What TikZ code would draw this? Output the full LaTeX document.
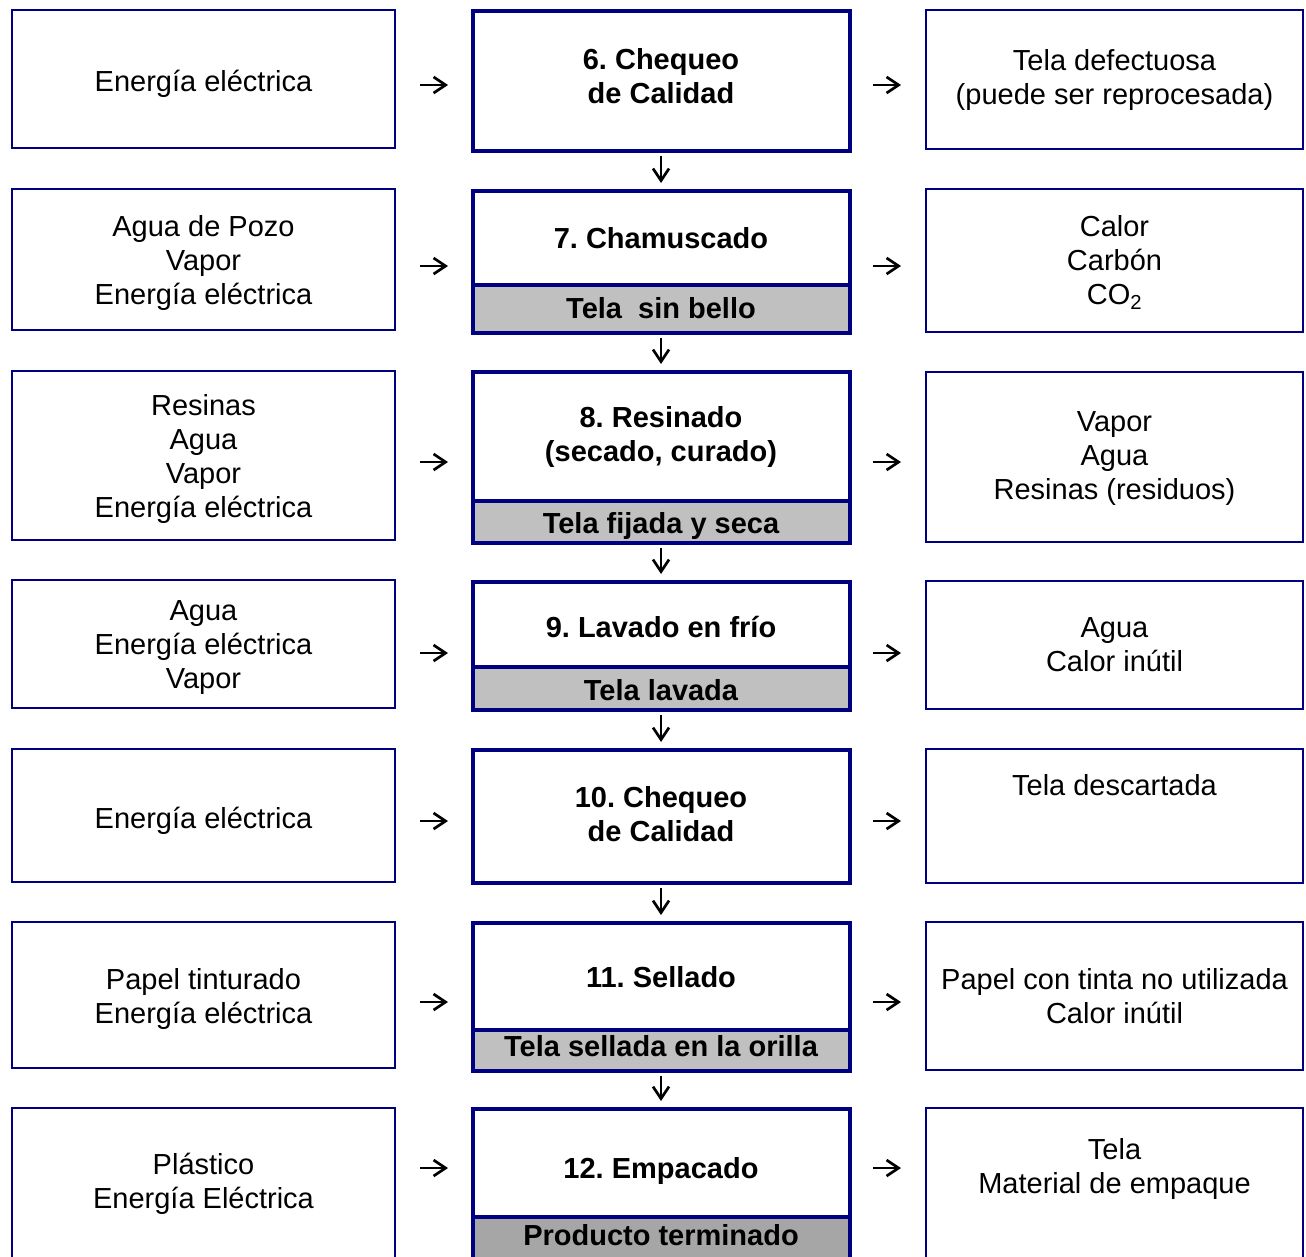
\documentclass[tikz,border=0pt]{standalone}
\usepackage{fontspec}
\setmainfont{Liberation Sans}
\usetikzlibrary{arrows.meta}
\definecolor{navy}{RGB}{0,0,128}
\definecolor{bandgrey}{RGB}{192,192,192}
\definecolor{banddark}{RGB}{166,166,166}
% strut that centres a line of text on its cap height
\newcommand\linestrut{\rule[-6.6pt]{0pt}{34pt}}

\begin{document}
\frenchspacing
\begin{tikzpicture}[x=1pt,y=-1pt,
  inbox/.style={draw=navy, line width=2.2pt, minimum width=383pt, inner sep=0pt, outer sep=0pt},
  stepbox/.style={draw=navy, line width=4pt, minimum width=377pt, inner sep=0pt, outer sep=0pt, fill=white},
  bandbox/.style={stepbox, fill=bandgrey},
  outbox/.style={draw=navy, line width=2.6pt, minimum width=377pt, inner sep=0pt, outer sep=0pt},
  txt/.style={font=\fontsize{29}{34}\selectfont, align=center, inner sep=0pt,
    execute at begin node=\linestrut, execute at end node=\linestrut},
  btxt/.style={txt, font=\fontsize{29}{34}\selectfont\bfseries},
  flow/.style={line width=2.3pt, -{Straight Barb[length=12pt,width=16pt,line width=2.7pt]}},
  inflow/.style={flow, shorten <=25pt, shorten >=24.5pt},
  outflow/.style={flow, shorten <=23.5pt, shorten >=25pt},
  downflow/.style={flow, shorten <=4.5pt, shorten >=8pt},
]
\useasboundingbox (0,0) rectangle (1306,1256);
\fill[white] (0,0) rectangle (1306,1256);
\clip (0,0) rectangle (1306,1256);

% ---------- boxes: inputs (left), steps (middle), outputs (right)
% row 1
\node[inbox, minimum height=138pt] (in1) at (203.5,79) {};
\node[stepbox, minimum height=140pt] (p1) at (661,81) {};
\node[outbox, minimum height=139pt] (out1) at (1114.5,79.5) {};
% row 2
\node[inbox, minimum height=141pt] (in2) at (203.5,259.5) {};
\node[stepbox, minimum height=94pt] (p2) at (661,238) {};
\node[bandbox, minimum height=48pt] (b2) at (661,309) {};
\node[outbox, minimum height=143pt] (out2) at (1114.5,260.5) {};
% row 3
\node[inbox, minimum height=169pt] (in3) at (203.5,455.5) {};
\node[stepbox, minimum height=129pt] (p3) at (661,436.5) {};
\node[bandbox, minimum height=42pt] (b3) at (661,522) {};
\node[outbox, minimum height=170pt] (out3) at (1114.5,457) {};
% row 4
\node[inbox, minimum height=128pt] (in4) at (203.5,644) {};
\node[stepbox, minimum height=85pt] (p4) at (661,624.5) {};
\node[bandbox, minimum height=43pt] (b4) at (661,688.5) {};
\node[outbox, minimum height=128pt] (out4) at (1114.5,645) {};
% row 5
\node[inbox, minimum height=133pt] (in5) at (203.5,815.5) {};
\node[stepbox, minimum height=133pt] (p5) at (661,816.5) {};
\node[outbox, minimum height=134pt] (out5) at (1114.5,816) {};
% row 6
\node[inbox, minimum height=146pt] (in6) at (203.5,995) {};
\node[stepbox, minimum height=107pt] (p6) at (661,976.5) {};
\node[bandbox, minimum height=41pt] (b6) at (661,1050.5) {};
\node[outbox, minimum height=148pt] (out6) at (1114.5,996) {};
% row 7 (runs past the lower edge)
\node[inbox, minimum height=172pt] (in7) at (203.5,1194) {};
\node[stepbox, minimum height=108pt] (p7) at (661,1163) {};
\node[bandbox, fill=banddark, minimum height=63pt] (b7) at (661,1248.5) {};
\node[outbox, minimum height=172pt] (out7) at (1114.5,1194) {};

% ---------- texts
\node[txt] (tin1) at (203.5,81.5) {Energía eléctrica};
\node[btxt] (tp1) at (661,79) {6. Chequeo\\de Calidad};
\node[txt] (tout1) at (1114.5,80.3) {Tela defectuosa\\(puede ser reprocesada)};

\node[txt] (tin2) at (203.5,263) {Agua de Pozo\\Vapor\\Energía eléctrica};
\node[btxt] (tp2) at (661,238) {7. Chamuscado};
\node[btxt] (tb2) at (661,308) {Tela\ \ sin bello};
\node[txt] (tout2) at (1114.5,263) {Calor\\Carbón\\CO\textsubscript{2}};

\node[txt] (tin3) at (203.5,459) {Resinas\\Agua\\Vapor\\Energía eléctrica};
\node[btxt] (tp3) at (661,437.5) {8. Resinado\\(secado, curado)};
\node[btxt] (tb3) at (661,523) {Tela fijada y seca};
\node[txt] (tout3) at (1114.5,459) {Vapor\\Agua\\Resinas (residuos)};

\node[txt] (tin4) at (203.5,648) {Agua\\Energía eléctrica\\Vapor};
\node[btxt] (tp4) at (661,627.5) {9. Lavado en frío};
\node[btxt] (tb4) at (661,690) {Tela lavada};
\node[txt] (tout4) at (1114.5,648) {Agua\\Calor inútil};

\node[txt] (tin5) at (203.5,818) {Energía eléctrica};
\node[btxt] (tp5) at (661,817.5) {10. Chequeo\\de Calidad};
\node[txt] (tout5) at (1114.5,785.5) {Tela descartada};

\node[txt] (tin6) at (203.5,999) {Papel tinturado\\Energía eléctrica};
\node[btxt] (tp6) at (661,977.5) {11. Sellado};
\node[btxt] (tb6) at (661,1046.5) {Tela sellada en la orilla};
\node[txt] (tout6) at (1114.5,999) {Papel con tinta no utilizada\\Calor inútil};

\node[txt] (tin7) at (203.5,1184.5) {Plástico\\Energía Eléctrica};
\node[btxt] (tp7) at (661,1168) {12. Empacado};
\node[btxt] (tb7) at (661,1235) {Producto terminado};
\node[txt] (tout7) at (1114.5,1169.5) {Tela\\Material de empaque};

% ---------- arrow levels of each row
\coordinate (lv1) at (0,85);
\coordinate (lv2) at (0,266);
\coordinate (lv3) at (0,462);
\coordinate (lv4) at (0,653);
\coordinate (lv5) at (0,821);
\coordinate (lv6) at (0,1002);
\coordinate (lv7) at (0,1168);

\foreach \r in {1,...,7}{
  \draw[inflow] (in\r.east |- lv\r) -- (p\r.west |- lv\r);
  \draw[outflow] (p\r.east |- lv\r) -- (out\r.west |- lv\r);
}

% ---------- flow down the process column
\draw[downflow] (p1.south) -- (p2.north);
\draw[downflow] (b2.south) -- (p3.north);
\draw[downflow] (b3.south) -- (p4.north);
\draw[downflow] (b4.south) -- (p5.north);
\draw[downflow] (p5.south) -- (p6.north);
\draw[downflow] (b6.south) -- (p7.north);
\end{tikzpicture}
\end{document}
